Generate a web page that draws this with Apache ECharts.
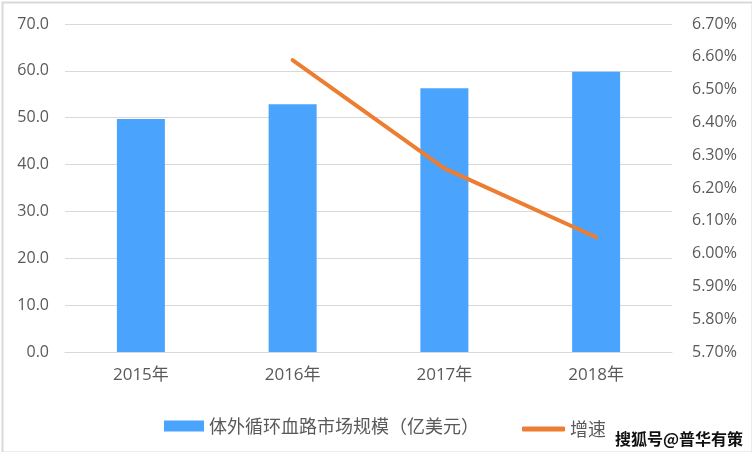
<!DOCTYPE html>
<html><head><meta charset="utf-8">
<script src="https://cdn.jsdelivr.net/npm/echarts@6/dist/echarts.min.js"></script>
<style>html,body{margin:0;padding:0;background:#fff}#c{width:752px;height:452px}</style>
</head><body><div id="c"></div>
<script>
const categories = ['2015年','2016年','2017年','2018年'];
const marketSize = [49.7, 52.9, 56.3, 59.8];
const growthRate = [null, 6.59, 6.26, 6.05];
const barName = '体外循环血路市场规模（亿美元）';
const lineName = '增速';

const chart = echarts.init(document.getElementById('c'));
const font = '"Open Sans", "Noto Sans CJK SC", sans-serif';
const cjk = '"Noto Sans CJK SC", sans-serif';
chart.setOption({
  animation: false,
  textStyle: {fontFamily: font},
  grid: {left: 65, right: 80, top: 24, bottom: 100},
  legend: [{
    left: 159, top: 412, itemWidth: 40, itemHeight: 11,
    textStyle: {fontSize: 18, color: '#595959', fontFamily: cjk},
    data: [{name: barName, icon: 'rect'}]
  }, {
    left: 517, top: 415, itemWidth: 43, itemHeight: 5,
    textStyle: {fontSize: 18, color: '#595959', fontFamily: cjk},
    data: [{name: lineName, icon: 'roundRect'}]
  }],
  xAxis: {
    type: 'category', data: categories,
    axisLine: {lineStyle: {color: '#d9d9d9', width: 1}},
    axisTick: {show: false},
    axisLabel: {color: '#595959', fontSize: 17, margin: 15, fontFamily: font}
  },
  yAxis: [{
    type: 'value', min: 0, max: 70, interval: 10,
    axisLabel: {color: '#595959', fontSize: 16, margin: 16, formatter: v => v.toFixed(1), fontFamily: font},
    splitLine: {lineStyle: {color: '#d9d9d9', width: 1}},
    axisLine: {show: false}, axisTick: {show: false}
  }, {
    type: 'value', min: 5.7, max: 6.7, interval: 0.1,
    axisLabel: {color: '#595959', fontSize: 16, margin: 20, formatter: v => v.toFixed(2) + '%', fontFamily: font},
    splitLine: {show: false}, axisLine: {show: false}, axisTick: {show: false}
  }],
  series: [{
    name: barName, type: 'bar', data: marketSize, barWidth: 48,
    itemStyle: {color: '#4aa3fd'}
  }, {
    name: lineName, type: 'line', yAxisIndex: 1, data: growthRate,
    symbol: 'none', lineStyle: {color: '#ed7d31', width: 4, cap: 'round'},
    itemStyle: {color: '#ed7d31'}
  }],
  graphic: [{
    type: 'rect', left: 0, top: 0, z: 100, silent: true,
    shape: {x: 1, y: 1, width: 750, height: 450},
    style: {fill: 'none', stroke: '#d9d9d9', lineWidth: 2}
  }, {
    type: 'text', right: 8, bottom: 4, z: 100,
    style: {text: '搜狐号@普华有策', fill: '#111', stroke: '#fff', lineWidth: 2,
      font: 'bold 16px "Noto Sans CJK SC", sans-serif'}
  }]
});
</script></body></html>
